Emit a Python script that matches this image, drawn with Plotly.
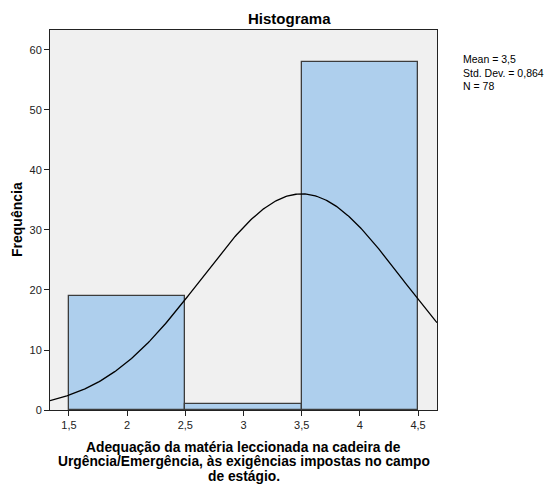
import numpy as np
import plotly.graph_objects as go

bin_centers = [2, 3, 4]
frequencies = [19, 1, 58]
bin_width = 1.0
mean_val = 3.5
std_val = 0.864
n_val = 78
x_ticks = [1.5, 2, 2.5, 3, 3.5, 4, 4.5]
x_tick_labels = ["1,5", "2", "2,5", "3", "3,5", "4", "4,5"]
y_ticks = [0, 10, 20, 30, 40, 50, 60]
x_title_lines = ["Adequação da matéria leccionada na cadeira de",
                 "Urgência/Emergência, às exigências impostas no campo",
                 "de estágio."]

xr = [1.337, 4.663]
xs = np.linspace(xr[0], xr[1], 300)
ys = n_val * bin_width / (std_val * np.sqrt(2 * np.pi)) * np.exp(-0.5 * ((xs - mean_val) / std_val) ** 2)

fig = go.Figure()
fig.add_trace(go.Bar(x=bin_centers, y=frequencies, width=bin_width,
                     marker=dict(color="#AECFED", line=dict(color="#3C3C3C", width=1.3)),
                     showlegend=False, hoverinfo="skip"))
fig.add_trace(go.Scatter(x=xs, y=ys, mode="lines", line=dict(color="black", width=1.3),
                         showlegend=False, hoverinfo="skip"))

fnt = "Liberation Sans, Arial, sans-serif"
annotations = [
    dict(text="<b>Histograma</b>", xref="paper", yref="paper", x=(289 - 50) / 387, y=1,
         yshift=12, showarrow=False, font=dict(size=15, color="black"), xanchor="center", yanchor="middle"),
    dict(text="Mean = 3,5<br>Std. Dev. = 0,864<br>N = 78", xref="paper", yref="paper",
         x=1, xshift=24, y=(410 - 51) / 380, showarrow=False, align="left",
         xanchor="left", yanchor="top", font=dict(size=10.5, color="black")),
    dict(text="<b>Frequência</b>", xref="paper", yref="paper", x=0, xshift=-33, y=0.5,
         textangle=-90, showarrow=False, xanchor="center", yanchor="middle",
         font=dict(size=14, color="black")),
]
for i, line in enumerate(x_title_lines):
    annotations.append(dict(text="<b>" + line + "</b>", xref="paper", yref="paper", x=0.5, y=0,
                            yshift=-37 - 14.5 * i, showarrow=False, xanchor="center", yanchor="middle",
                            font=dict(size=13.8, color="black")))

fig.update_layout(
    width=553, height=484,
    margin=dict(l=50, r=116, t=30, b=74),
    paper_bgcolor="white", plot_bgcolor="#F0F0F0",
    font=dict(family=fnt, size=11, color="#222"),
    bargap=0,
    xaxis=dict(range=xr, tickvals=x_ticks, ticktext=x_tick_labels, showgrid=False,
               zeroline=False, showline=True, linecolor="#222", linewidth=1, mirror=True,
               ticks="outside", ticklen=5, tickcolor="#222", tickfont=dict(size=11)),
    yaxis=dict(range=[0, 63.33], tickvals=y_ticks, showgrid=False, zeroline=False,
               showline=True, linecolor="#222", linewidth=1, mirror=True,
               ticks="outside", ticklen=5, tickcolor="#222", tickfont=dict(size=11)),
    annotations=annotations,
)
fig.write_html("out.html", config={"displayModeBar": False},
               post_script="document.body.style.margin='0';document.body.style.padding='0';")
